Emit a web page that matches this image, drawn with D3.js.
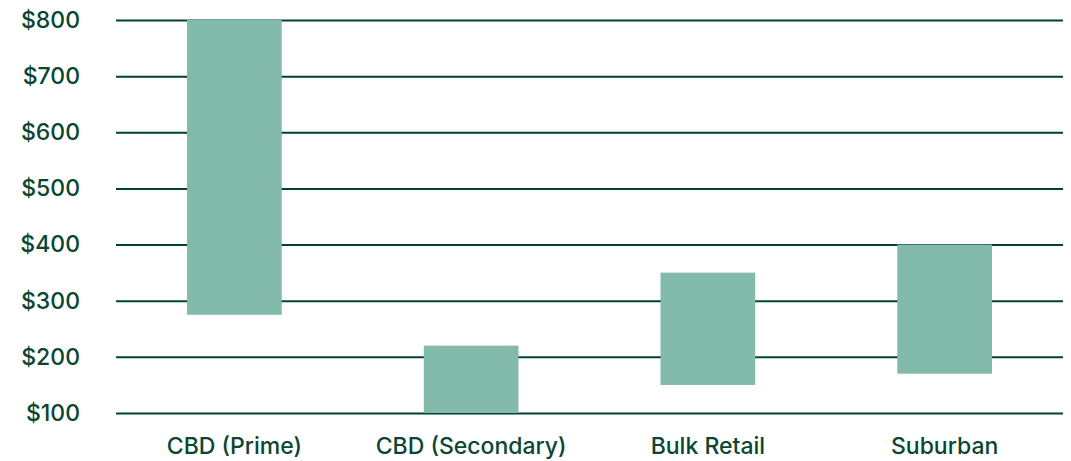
<!DOCTYPE html>
<html>
<head>
<meta charset="utf-8">
<script src="https://cdn.jsdelivr.net/npm/d3@7"></script>
<style>
  html, body { margin: 0; padding: 0; background: #ffffff; }
  svg { display: block; }
  text { font-family: Inter, "Noto Sans", sans-serif; font-weight: 500; fill: #0a4631; }
</style>
</head>
<body>
<svg id="chart" width="1071" height="461"></svg>
<script>
// Rent ranges by asset type ($ per sqm)
const categories = ["CBD (Prime)", "CBD (Secondary)", "Bulk Retail", "Suburban"];
const lowValues  = [275, 100, 150, 170];
const highValues = [800, 220, 350, 400];
const yTicks     = [100, 200, 300, 400, 500, 600, 700, 800];

const width = 1071, height = 461;
const margin = { top: 20, right: 8, bottom: 48, left: 116 };

const svg = d3.select("#chart");

const x = d3.scaleBand()
  .domain(categories)
  .range([margin.left, width - margin.right])
  .paddingInner(0.6)
  .paddingOuter(0.3);

const y = d3.scaleLinear()
  .domain([100, 800])
  .range([height - margin.bottom, margin.top]);

// Horizontal gridlines with dollar labels
const yAxis = svg.append("g")
  .attr("transform", `translate(${margin.left},0)`)
  .call(d3.axisLeft(y)
    .tickValues(yTicks)
    .tickSize(-(width - margin.right - margin.left))
    .tickPadding(36)
    .tickFormat(d => "$" + d));
yAxis.select(".domain").remove();
yAxis.selectAll(".tick line")
  .attr("stroke", "#00422c")
  .attr("stroke-width", 2);
yAxis.selectAll(".tick text")
  .attr("font-size", 23);

// Floating range bars
svg.append("g")
  .selectAll("rect")
  .data(categories)
  .join("rect")
  .attr("x", d => x(d))
  .attr("width", x.bandwidth())
  .attr("y", (d, i) => y(highValues[i]))
  .attr("height", (d, i) => y(lowValues[i]) - y(highValues[i]))
  .attr("fill", "#82baab");

// Category labels
const xAxis = svg.append("g")
  .attr("transform", `translate(0,${height - margin.bottom})`)
  .call(d3.axisBottom(x).tickSize(0).tickPadding(25));
xAxis.select(".domain").remove();
xAxis.selectAll(".tick text")
  .attr("font-size", 23);
</script>
</body>
</html>
